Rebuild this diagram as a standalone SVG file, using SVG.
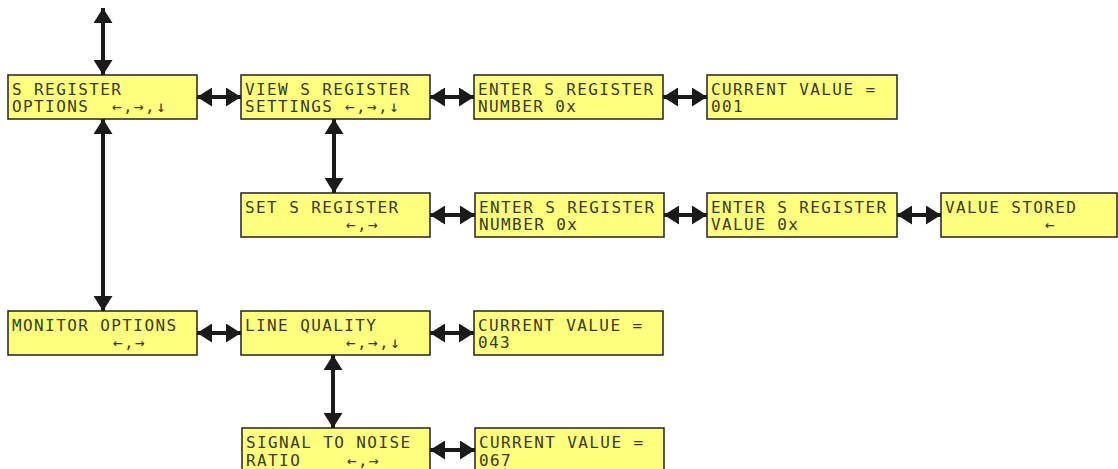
<svg xmlns="http://www.w3.org/2000/svg" width="1118" height="469" viewBox="0 0 1118 469">
<style>
.box{fill:#ffff80;stroke:#222;stroke-width:1.5}
.t{font-family:"DejaVu Sans Mono","Liberation Mono",monospace;font-size:16px;letter-spacing:1.4px;fill:#3a3a22}
.c{stroke:#1a1a1a;stroke-width:4;fill:none;marker-start:url(#ah);marker-end:url(#ah)}
</style>
<defs>
<marker id="ah" markerUnits="userSpaceOnUse" viewBox="0 0 15 19" refX="15" refY="9.5" markerWidth="15" markerHeight="19" orient="auto-start-reverse">
<path d="M0,0 L15,9.5 L0,19 z" fill="#1a1a1a"/>
</marker>
</defs>
<g id="connectors">
<line class="c" x1="103" y1="8" x2="103" y2="75"/>
<line class="c" x1="103" y1="119" x2="103" y2="311"/>
<line class="c" x1="334" y1="119" x2="334" y2="193"/>
<line class="c" x1="333" y1="355" x2="333" y2="428"/>
<line class="c" x1="197" y1="97" x2="241" y2="97"/>
<line class="c" x1="430" y1="97" x2="474" y2="97"/>
<line class="c" x1="663" y1="97" x2="707" y2="97"/>
<line class="c" x1="430" y1="215" x2="475" y2="215"/>
<line class="c" x1="664" y1="215" x2="707" y2="215"/>
<line class="c" x1="897" y1="215" x2="941" y2="215"/>
<line class="c" x1="197" y1="333" x2="241" y2="333"/>
<line class="c" x1="430" y1="333" x2="474" y2="333"/>
<line class="c" x1="430" y1="450" x2="475" y2="450"/>
</g>
<g id="n1"><rect class="box" x="8" y="75" width="189" height="44"/><text class="t" x="12" y="94.5">S REGISTER</text><text class="t" x="12" y="112">OPTIONS</text><text class="t" x="112" y="112">←,→,↓</text></g>
<g id="n2"><rect class="box" x="241" y="75" width="189" height="44"/><text class="t" x="245" y="94.5">VIEW S REGISTER</text><text class="t" x="245" y="112">SETTINGS</text><text class="t" x="345" y="112">←,→,↓</text></g>
<g id="n3"><rect class="box" x="474" y="75" width="189" height="44"/><text class="t" x="478" y="94.5">ENTER S REGISTER</text><text class="t" x="478" y="112">NUMBER 0x</text></g>
<g id="n4"><rect class="box" x="707" y="75" width="190" height="44"/><text class="t" x="711" y="94.5">CURRENT VALUE =</text><text class="t" x="711" y="112">001</text></g>
<g id="n5"><rect class="box" x="241" y="193" width="189" height="44"/><text class="t" x="245" y="212.5">SET S REGISTER</text><text class="t" x="346" y="230">←,→</text></g>
<g id="n6"><rect class="box" x="475" y="193" width="189" height="44"/><text class="t" x="479" y="212.5">ENTER S REGISTER</text><text class="t" x="479" y="230">NUMBER 0x</text></g>
<g id="n7"><rect class="box" x="707" y="193" width="190" height="44"/><text class="t" x="711" y="212.5">ENTER S REGISTER</text><text class="t" x="711" y="230">VALUE 0x</text></g>
<g id="n8"><rect class="box" x="941" y="193" width="176" height="44"/><text class="t" x="945" y="212.5">VALUE STORED</text><text class="t" x="1045" y="230">←</text></g>
<g id="n9"><rect class="box" x="8" y="311" width="189" height="44"/><text class="t" x="12" y="330.5">MONITOR OPTIONS</text><text class="t" x="113" y="348">←,→</text></g>
<g id="n10"><rect class="box" x="241" y="311" width="189" height="44"/><text class="t" x="245" y="330.5">LINE QUALITY</text><text class="t" x="346" y="348">←,→,↓</text></g>
<g id="n11"><rect class="box" x="474" y="311" width="189" height="44"/><text class="t" x="478" y="330.5">CURRENT VALUE =</text><text class="t" x="478" y="348">043</text></g>
<g id="n12"><rect class="box" x="242" y="428" width="188" height="46"/><text class="t" x="246" y="448">SIGNAL TO NOISE</text><text class="t" x="246" y="465.5">RATIO</text><text class="t" x="347" y="465.5">←,→</text></g>
<g id="n13"><rect class="box" x="475" y="428" width="189" height="46"/><text class="t" x="479" y="448">CURRENT VALUE =</text><text class="t" x="479" y="465.5">067</text></g>
</svg>
